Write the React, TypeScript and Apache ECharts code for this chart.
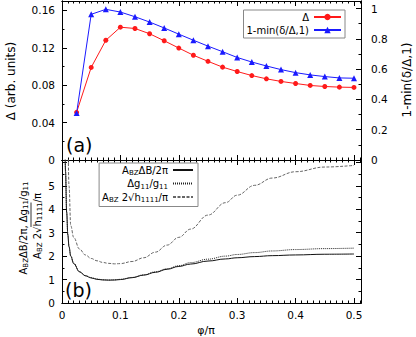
import React, { useEffect, useRef } from "react";
import * as echarts from "echarts";

// ---- panel (a) data ----
const phiA = [0.025, 0.05, 0.075, 0.1, 0.125, 0.15, 0.175, 0.2, 0.225, 0.25, 0.275, 0.3, 0.325, 0.35, 0.375, 0.4, 0.425, 0.45, 0.475, 0.5];
const gapDelta = [0.051, 0.099, 0.128, 0.142, 0.1406, 0.135, 0.1275, 0.1197, 0.112, 0.1055, 0.0993, 0.0946, 0.0903, 0.0868, 0.084, 0.0818, 0.0797, 0.0786, 0.0779, 0.0776];
const oneMinusRatio = [0.31, 0.962, 0.995, 0.977, 0.946, 0.911, 0.872, 0.831, 0.791, 0.752, 0.715, 0.677, 0.647, 0.621, 0.597, 0.577, 0.562, 0.551, 0.542, 0.54];

// ---- panel (b) data ----
const phiB = [0.005, 0.006, 0.008, 0.01, 0.012, 0.015, 0.02, 0.03, 0.04, 0.05, 0.06, 0.07, 0.08, 0.09, 0.1, 0.12, 0.14, 0.16, 0.18, 0.2, 0.22, 0.25, 0.28, 0.3, 0.33, 0.36, 0.4, 0.45, 0.5];
const abzDeltaB = [7.2, 5.6, 3.85, 2.9, 2.4, 2.0, 1.68, 1.33, 1.16, 1.07, 1.01, 0.985, 0.975, 0.98, 1.0, 1.08, 1.19, 1.31, 1.44, 1.56, 1.66, 1.79, 1.88, 1.93, 1.98, 2.02, 2.05, 2.08, 2.09];
const deltaG = [7.3, 5.7, 3.9, 2.93, 2.42, 2.02, 1.7, 1.34, 1.17, 1.08, 1.02, 0.99, 0.98, 0.99, 1.01, 1.09, 1.2, 1.33, 1.46, 1.59, 1.72, 1.87, 2.0, 2.07, 2.15, 2.22, 2.28, 2.32, 2.34];
const sqrtH: (number | null)[] = [null, null, 10, 6.8, 5.0, 3.3, 2.8, 2.3, 2.05, 1.9, 1.8, 1.73, 1.69, 1.67, 1.68, 1.77, 1.93, 2.17, 2.47, 2.8, 3.15, 3.75, 4.28, 4.6, 5.02, 5.33, 5.6, 5.8, 5.87];

const xTicksMajor = 0.1;
const xTicksMinor = 0.01;
const xMax = 0.512;

const NAME_D = "Δ";
const NAME_R = "1-min(δ/Δ,1)";
const NAME_B1 = "ABZΔB/2π";
const NAME_B2 = "Δg11/g11";
const NAME_B3 = "ABZ 2√h1111/π";

const FONT = "DejaVu Sans";

const zip = (xs: number[], ys: (number | null)[]) =>
  xs.map((x, i) => [x, ys[i]]).filter((p) => p[1] !== null);

const mkX = (gridIndex: number, position: string, interval: number, len: number, labels: boolean) => ({
  type: "value",
  gridIndex,
  position,
  min: 0,
  max: xMax,
  interval,
  axisLine: { show: true, onZero: false, lineStyle: { color: "#000", width: 1 } },
  axisTick: { show: true, inside: true, length: len, lineStyle: { color: "#000", width: 1 } },
  axisLabel: { show: labels, showMaxLabel: false, margin: 6, fontFamily: FONT, fontSize: 10.5, color: "#000" },
  splitLine: { show: false },
});

const mkY = (
  gridIndex: number,
  position: string,
  max: number,
  interval: number,
  len: number,
  labels: boolean,
  formatter?: (v: number) => string
) => ({
  type: "value",
  gridIndex,
  position,
  min: 0,
  max,
  interval,
  axisLine: { show: true, onZero: false, lineStyle: { color: "#000", width: 1 } },
  axisTick: { show: true, inside: true, length: len, lineStyle: { color: "#000", width: 1 } },
  axisLabel: {
    show: labels,
    showMaxLabel: false,
    margin: position === "left" ? 7 : 10,
    fontFamily: FONT,
    fontSize: 10.5,
    color: "#000",
    formatter,
  },
  splitLine: { show: false },
});

export default function App() {
  const ref = useRef<HTMLDivElement>(null);
  useEffect(() => {
    document.body.style.margin = "0";
    const chart = echarts.init(ref.current!, null, { renderer: "svg" });
    const richStyles = {
      n: { fontFamily: FONT, fontSize: 10, color: "#000" },
      s: { fontFamily: FONT, fontSize: 7, color: "#000", padding: [6, 0, 0, 0] },
    };
    const legendFmt: Record<string, string> = {
      [NAME_B1]: "{n|A}{s|BZ}{n|ΔB/2π}",
      [NAME_B2]: "{n|Δg}{s|11}{n|/g}{s|11}",
      [NAME_B3]: "{n|A}{s|BZ}{n| 2√h}{s|1111}{n|/π}",
    };
    const option: any = {
      animation: false,
      backgroundColor: "#fff",
      grid: [
        { left: 62, right: 55, top: 1, height: 159 },
        { left: 62, right: 55, top: 160, height: 143 },
      ],
      xAxis: [
        mkX(0, "bottom", xTicksMajor, 5, false),
        mkX(0, "bottom", xTicksMinor, 2.5, false),
        mkX(0, "top", xTicksMajor, 5, false),
        mkX(0, "top", xTicksMinor, 2.5, false),
        mkX(1, "bottom", xTicksMajor, 5, true),
        mkX(1, "bottom", xTicksMinor, 2.5, false),
        mkX(1, "top", xTicksMajor, 5, false),
        mkX(1, "top", xTicksMinor, 2.5, false),
      ],
      yAxis: [
        mkY(0, "left", 0.17, 0.04, 5, true),
        mkY(0, "left", 0.17, 0.02, 2.5, false),
        mkY(0, "right", 1.05, 0.2, 5, true),
        mkY(0, "right", 1.05, 0.1, 2.5, false),
        mkY(1, "left", 6.1, 1, 5, true, (v: number) => (v <= 5.5 ? String(Math.round(v)) : "")),
        mkY(1, "left", 6.1, 0.5, 2.5, false),
        mkY(1, "right", 6.1, 1, 5, false),
        mkY(1, "right", 6.1, 0.5, 2.5, false),
      ],
      legend: [
        {
          data: [NAME_D, NAME_R],
          orient: "vertical",
          align: "right",
          right: 71,
          top: 10,
          itemWidth: 27,
          itemHeight: 8,
          itemGap: 3,
          padding: [2, 3, 3, 3],
          borderColor: "#888",
          borderWidth: 1,
          borderRadius: 0,
          backgroundColor: "#fff",
          textStyle: { fontFamily: FONT, fontSize: 10, color: "#000" },
        },
        {
          data: [NAME_B1, NAME_B2, NAME_B3],
          orient: "vertical",
          align: "right",
          right: 218,
          top: 163,
          itemWidth: 20,
          itemHeight: 8,
          itemGap: 2,
          padding: [2, 4, 3, 3],
          borderColor: "#888",
          borderWidth: 1,
          borderRadius: 0,
          backgroundColor: "#fff",
          itemStyle: { opacity: 0 },
          formatter: (name: string) => legendFmt[name] || name,
          textStyle: { fontFamily: FONT, fontSize: 10, color: "#000", rich: richStyles },
        },
      ],
      series: [
        {
          name: NAME_D,
          type: "line",
          xAxisIndex: 0,
          yAxisIndex: 0,
          data: zip(phiA, gapDelta),
          color: "#ff1a1a",
          symbol: "circle",
          symbolSize: 5,
          lineStyle: { width: 1 },
        },
        {
          name: NAME_R,
          type: "line",
          xAxisIndex: 0,
          yAxisIndex: 2,
          data: zip(phiA, oneMinusRatio),
          color: "#1a1aff",
          symbol: "triangle",
          symbolSize: 6,
          lineStyle: { width: 1 },
        },
        {
          name: NAME_B1,
          type: "line",
          xAxisIndex: 4,
          yAxisIndex: 4,
          data: zip(phiB, abzDeltaB),
          color: "#111",
          symbol: "none",
          smooth: 0.4,
          smoothMonotone: "x",
          clip: true,
          lineStyle: { width: 1 },
        },
        {
          name: NAME_B2,
          type: "line",
          xAxisIndex: 4,
          yAxisIndex: 4,
          data: zip(phiB, deltaG),
          color: "#222",
          symbol: "none",
          smooth: 0.4,
          smoothMonotone: "x",
          clip: true,
          lineStyle: { width: 1, type: [1, 1] },
        },
        {
          name: NAME_B3,
          type: "line",
          xAxisIndex: 4,
          yAxisIndex: 4,
          data: zip(phiB, sqrtH),
          color: "#666",
          symbol: "none",
          smooth: 0.4,
          smoothMonotone: "x",
          clip: true,
          lineStyle: { width: 1, type: [3, 1.5] },
        },
      ],
      graphic: [
        { type: "text", x: 66, y: 145, style: { text: "(a)", fontFamily: FONT, fontSize: 19, fill: "#000", verticalAlign: "middle" } },
        { type: "text", x: 65, y: 290, style: { text: "(b)", fontFamily: FONT, fontSize: 19, fill: "#000", verticalAlign: "middle" } },
        {
          type: "text",
          x: 11,
          y: 81,
          rotation: Math.PI / 2,
          style: { text: "Δ (arb. units)", fontFamily: FONT, fontSize: 12, fill: "#000", align: "center", verticalAlign: "middle" },
        },
        {
          type: "text",
          x: 407,
          y: 80,
          rotation: Math.PI / 2,
          style: { text: "1-min(δ/Δ,1)", fontFamily: FONT, fontSize: 12, fill: "#000", align: "center", verticalAlign: "middle" },
        },
        {
          type: "text",
          x: 206,
          y: 330,
          style: { text: "φ/π", fontFamily: FONT, fontSize: 11, fill: "#000", align: "center", verticalAlign: "middle" },
        },
        {
          type: "text",
          x: 23,
          y: 228,
          rotation: Math.PI / 2,
          style: {
            text: "{n|A}{s|BZ}{n|ΔB/2π, Δg}{s|11}{n|/g}{s|11}",
            rich: richStyles,
            align: "center",
            verticalAlign: "middle",
          },
        },
        {
          type: "group",
          x: 37,
          y: 226,
          rotation: Math.PI / 2,
          children: [
            {
              type: "text",
              x: 0,
              y: 0,
              style: {
                text: "{n|A}{s|BZ}{n| 2√h}{s|1111}{n|/π}",
                rich: richStyles,
                align: "center",
                verticalAlign: "middle",
              },
            },
            { type: "line", shape: { x1: -1, y1: -6, x2: 23.5, y2: -6 }, style: { stroke: "#000", lineWidth: 0.8 } },
          ],
        },
      ],
    };
    chart.setOption(option);
    return () => chart.dispose();
  }, []);
  return <div ref={ref} style={{ width: 416, height: 337, position: "fixed", left: 0, top: 0 }} />;
}
